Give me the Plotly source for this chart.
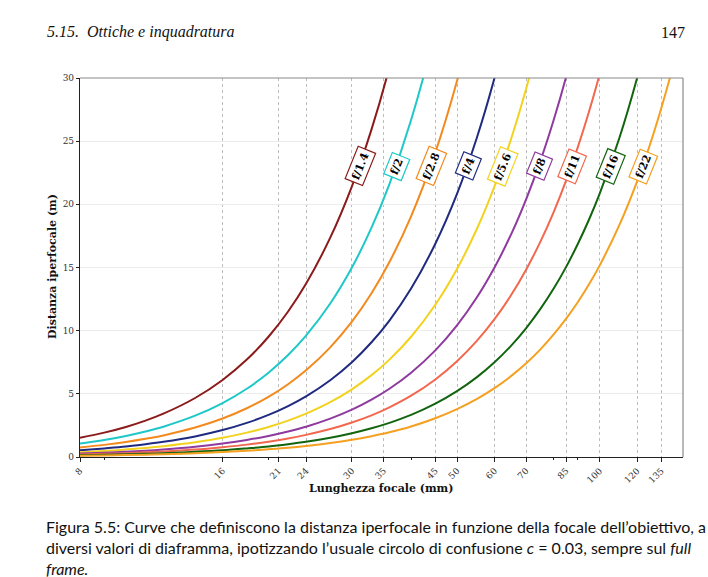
import math
import plotly.graph_objects as go

# ---- data ----
focal = [8, 9, 10, 11, 12, 14, 16, 18, 20, 22, 24, 27, 30, 33, 36, 40, 45, 50, 55, 60,
         65, 70, 75, 80, 85, 90, 95, 100, 110, 120, 130, 140, 150]

apertures = ["f/1.4", "f/2", "f/2.8", "f/4", "f/5.6", "f/8", "f/11", "f/16", "f/22"]

h_f14 = [1.52, 1.93, 2.38, 2.88, 3.43, 4.67, 6.10, 7.71, 9.52, 11.52, 13.71, 17.36, 21.43,
         25.93, 30.86, 38.10]
h_f2 = [1.07, 1.35, 1.67, 2.02, 2.40, 3.27, 4.27, 5.40, 6.67, 8.07, 9.60, 12.15, 15.00,
        18.15, 21.60, 26.67, 33.75, 41.67]
h_f28 = [0.76, 0.96, 1.19, 1.44, 1.71, 2.33, 3.05, 3.86, 4.76, 5.76, 6.86, 8.68, 10.71,
         12.96, 15.43, 19.05, 24.11, 29.76, 36.01, 42.86]
h_f4 = [0.53, 0.68, 0.83, 1.01, 1.20, 1.63, 2.13, 2.70, 3.33, 4.03, 4.80, 6.08, 7.50,
        9.08, 10.80, 13.33, 16.88, 20.83, 25.21, 30.00, 35.21]
h_f56 = [0.38, 0.48, 0.60, 0.72, 0.86, 1.17, 1.52, 1.93, 2.38, 2.88, 3.43, 4.34, 5.36,
         6.48, 7.71, 9.52, 12.05, 14.88, 18.01, 21.43, 25.15, 29.17, 33.48, 38.10]
h_f8 = [0.27, 0.34, 0.42, 0.50, 0.60, 0.82, 1.07, 1.35, 1.67, 2.02, 2.40, 3.04, 3.75,
        4.54, 5.40, 6.67, 8.44, 10.42, 12.60, 15.00, 17.60, 20.42, 23.44, 26.67, 30.10, 33.75]
h_f11 = [0.19, 0.25, 0.30, 0.37, 0.44, 0.59, 0.78, 0.98, 1.21, 1.47, 1.75, 2.21, 2.73,
         3.30, 3.93, 4.85, 6.14, 7.58, 9.17, 10.91, 12.80, 14.85, 17.05, 19.39, 21.89,
         24.55, 27.35, 30.30, 36.67]
h_f16 = [0.13, 0.17, 0.21, 0.25, 0.30, 0.41, 0.53, 0.68, 0.83, 1.01, 1.20, 1.52, 1.88,
         2.27, 2.70, 3.33, 4.22, 5.21, 6.30, 7.50, 8.80, 10.21, 11.72, 13.33, 15.05,
         16.88, 18.80, 20.83, 25.21, 30.00, 35.21]
h_f22 = [0.10, 0.12, 0.15, 0.18, 0.22, 0.30, 0.39, 0.49, 0.61, 0.73, 0.87, 1.10, 1.36,
         1.65, 1.96, 2.42, 3.07, 3.79, 4.58, 5.45, 6.40, 7.42, 8.52, 9.70, 10.95, 12.27,
         13.67, 15.15, 18.33, 21.82, 25.61, 29.70, 34.09]

series = [h_f14, h_f2, h_f28, h_f4, h_f56, h_f8, h_f11, h_f16, h_f22]
colors = ["#8B1A1A", "#1FC8C8", "#F28A1E", "#1F2A80", "#F2D21E", "#8E3A9E",
          "#F2684E", "#13640F", "#F5A020"]

label_x = [31.3, 37.4, 44.2, 52.9, 62.6, 74.8, 87.7, 105.8, 124.0]
label_y = [23, 23, 23, 23, 23, 23, 23, 23, 23]

x_ticks = [8, 16, 21, 24, 30, 35, 45, 50, 60, 70, 85, 100, 120, 135]
x_minor = [9, 20, 40, 80, 90]
y_ticks = [0, 5, 10, 15, 20, 25, 30]

serif = "DejaVu Serif"

fig = go.Figure()
for name, ys, col in zip(apertures, series, colors):
    fig.add_trace(go.Scatter(x=focal[:len(ys)], y=ys, mode="lines", name=name,
                             line=dict(color=col, width=2, shape="spline"),
                             showlegend=False, hoverinfo="skip"))

for name, lx, ly, col in zip(apertures, label_x, label_y, colors):
    fig.add_annotation(x=math.log10(lx), y=ly, xref="x", yref="y", text="<b>%s</b>" % name,
                       showarrow=False, textangle=-68, bgcolor="white", bordercolor=col,
                       borderwidth=1.2, borderpad=2.5,
                       font=dict(family=serif, size=11, color="black"))

# plot area in pixels: x 80..683, y 78..457
PW, PH = 603, 379


def px(x):
    return (x - 80) / PW


def py(y):
    return (457 - y) / PH


page_font = "Liberation Serif"
cap_font = "Lato"
fig.add_annotation(text="<i>5.15.  Ottiche e inquadratura</i>", xref="paper", yref="paper",
                   x=px(45), y=py(32), xanchor="left", yanchor="middle",
                   showarrow=False, font=dict(family=page_font, size=16, color="#111"))
fig.add_annotation(text="147", xref="paper", yref="paper",
                   x=px(687), y=py(32), xanchor="right", yanchor="middle",
                   showarrow=False, font=dict(family=page_font, size=16, color="#111"))
cap_lines = [
    "Figura 5.5: Curve che definiscono la distanza iperfocale in funzione della focale dell\u2019obiettivo, a",
    "diversi valori di diaframma, ipotizzando l\u2019usuale circolo di confusione <i>c</i> = 0.03, sempre sul <i>full</i>",
    "<i>frame.</i>",
]
for i, t in enumerate(cap_lines):
    fig.add_annotation(text=t, xref="paper", yref="paper",
                       x=px(45), y=py(526 + 21 * i), xanchor="left", yanchor="middle",
                       showarrow=False, borderpad=0,
                       font=dict(family=cap_font, size=16, color="#111"))

# axis titles
fig.add_annotation(text="<b>Distanza iperfocale (m)</b>", xref="paper", yref="paper",
                   x=px(52), y=py(267), xanchor="center", yanchor="middle", textangle=-90,
                   showarrow=False, font=dict(family=serif, size=11, color="#111"))
fig.add_annotation(text="<b>Lunghezza focale (mm)</b>", xref="paper", yref="paper",
                   x=px(381), y=py(488), xanchor="center", yanchor="middle",
                   showarrow=False, font=dict(family=serif, size=11, color="#111"))

# top/right grey spines
fig.add_shape(type="line", xref="paper", yref="paper", x0=0, x1=1, y0=1, y1=1,
              line=dict(color="#8a8a8a", width=1.2))
fig.add_shape(type="line", xref="paper", yref="paper", x0=1, x1=1, y0=0, y1=1,
              line=dict(color="#8a8a8a", width=1.2))

fig.update_layout(
    width=708, height=577, autosize=False,
    margin=dict(l=80, r=25, t=78, b=120, autoexpand=False),
    paper_bgcolor="white", plot_bgcolor="white",
    xaxis=dict(type="log", range=[math.log10(8), math.log10(150)],
               tickmode="array", tickvals=x_ticks, ticktext=[str(v) for v in x_ticks],
               tickangle=-45, tickfont=dict(family=serif, size=9, color="#333"),
               ticks="outside", ticklen=4, tickcolor="#222",
               showline=True, linecolor="#222", linewidth=1.2,
               showgrid=True, gridcolor="#bdbdbd", griddash="dot", gridwidth=1,
               minor=dict(tickmode="array", tickvals=x_minor, ticks="outside", ticklen=2,
                          tickcolor="#222", showgrid=False),
               zeroline=False, automargin=False),
    yaxis=dict(range=[0, 30], tickmode="array", tickvals=y_ticks,
               tickfont=dict(family=serif, size=9, color="#333"),
               ticks="outside", ticklen=3, tickcolor="#222",
               showline=True, linecolor="#222", linewidth=1.2,
               showgrid=True, gridcolor="#ececec", gridwidth=0.8, zeroline=False,
               automargin=False),
)

fig.write_html("out.html")
